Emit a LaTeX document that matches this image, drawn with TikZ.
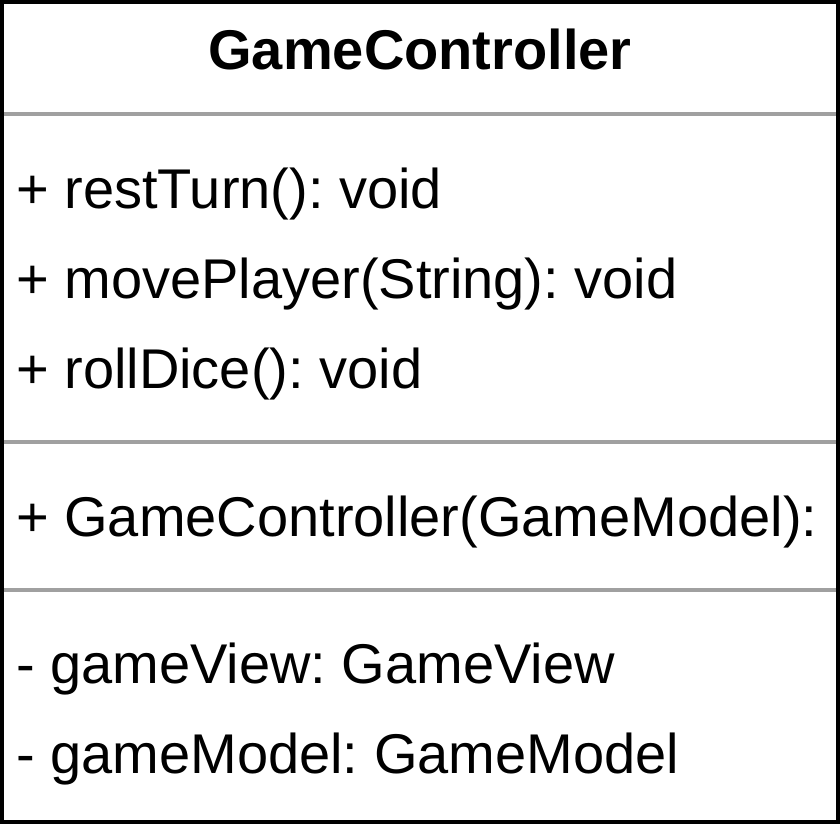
\documentclass[tikz,border=0pt]{standalone}
\usepackage{fontspec}
\setmainfont{Liberation Sans}
\definecolor{divgray}{HTML}{A0A0A0}
\frenchspacing
\begin{document}
\begin{tikzpicture}[x=1pt,y=-1pt,
  member/.style={anchor=base west, inner sep=0pt, font=\fontsize{56}{60}\selectfont\frenchspacing},
  title/.style={anchor=base, inner sep=0pt, font=\fontsize{56}{60}\selectfont\bfseries},
  divider/.style={draw=divgray, line width=3.5pt},
  frame/.style={draw=black, line width=4pt}]
\useasboundingbox (0,0) rectangle (840,824);
\fill[white] (0,0) rectangle (840,824);
\node[title] (t) at (420,70) {GameController};
\coordinate (d1l) at (0,114); \coordinate (d1r) at (836,114);
\coordinate (d2l) at (0,442); \coordinate (d2r) at (836,442);
\coordinate (d3l) at (0,590); \coordinate (d3r) at (836,590);
\draw[divider] (d1l) -- (d1r);
\draw[divider] (d2l) -- (d2r);
\draw[divider] (d3l) -- (d3r);
\node[member] (m1) at (16,208) {+ restTurn(): void};
\node[member] (m2) at (16,298) {+ movePlayer(String): void};
\node[member] (m3) at (16,388) {+ rollDice(): void};
\node[member] (c1) at (16,536) {+ GameController(GameModel):};
\node[member] (a1) at (16,683) {- gameView: GameView};
\node[member] (a2) at (16,773) {- gameModel: GameModel};
\draw[frame] (2,2) rectangle (838,822);
\end{tikzpicture}
\end{document}
